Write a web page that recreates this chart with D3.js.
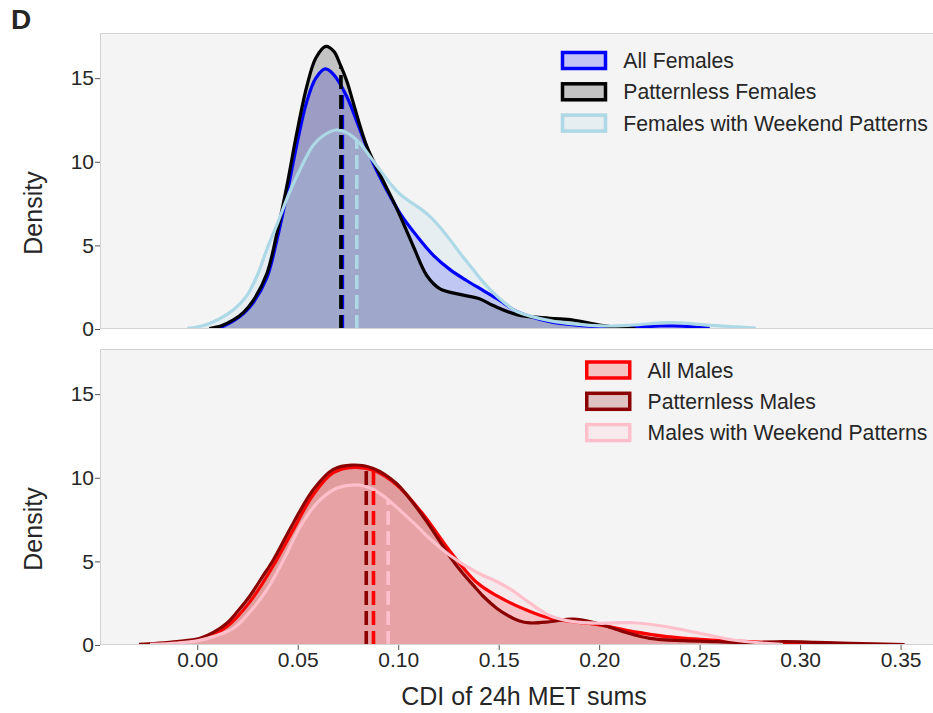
<!DOCTYPE html>
<html>
<head>
<meta charset="utf-8">
<script src="https://cdn.jsdelivr.net/npm/d3@7"></script>
<style>
  body { margin: 0; background: #ffffff; }
  svg { display: block; }
  text { font-family: "Liberation Sans", Arial, Helvetica, sans-serif; fill: #262626; }
</style>
</head>
<body>
<svg id="chart" width="933" height="713"></svg>
<script>
// ---- Kernel density estimates: [CDI value, density] ----
const femaleAll = [
  [0.008,0.03],[0.013,0.17],[0.018,0.48],[0.023,0.92],[0.028,1.6],[0.0346,3.05],[0.0396,5.3],
  [0.0445,8.0],[0.0495,11.0],[0.0545,13.6],[0.059,15.0],[0.0637,15.55],[0.068,15.2],[0.0744,13.9],
  [0.081,11.9],[0.0876,9.9],[0.0943,8.3],[0.101,6.9],[0.109,5.6],[0.1175,4.4],[0.1258,3.55],
  [0.134,2.9],[0.1424,2.3],[0.1507,1.7],[0.159,1.05],[0.1755,0.44],[0.19,0.22],[0.2,0.14],
  [0.215,0.12],[0.228,0.17],[0.237,0.19],[0.246,0.14],[0.255,0.04]
];
const femalePatternless = [
  [0.006,0.03],[0.012,0.2],[0.018,0.54],[0.023,1.0],[0.028,1.73],[0.0346,3.3],[0.0396,5.7],
  [0.0445,8.5],[0.0495,11.7],[0.0545,14.5],[0.059,16.2],[0.064,16.9],[0.068,16.6],[0.071,15.85],
  [0.0745,14.8],[0.0777,13.5],[0.0843,10.95],[0.0909,9.25],[0.0993,7.2],[0.1075,4.95],[0.1142,3.2],
  [0.1208,2.4],[0.1307,2.07],[0.1407,1.8],[0.147,1.42],[0.159,0.86],[0.1755,0.64],[0.187,0.54],
  [0.2,0.24],[0.209,0.1],[0.218,0.03]
];
const femaleWeekend = [
  [-0.005,0.04],[0.0,0.12],[0.005,0.28],[0.011,0.6],[0.018,1.15],[0.0247,2.0],[0.03,3.25],
  [0.0346,4.75],[0.04,6.35],[0.046,8.2],[0.051,9.5],[0.0545,10.35],[0.0578,11.0],[0.062,11.5],
  [0.0689,11.9],[0.075,11.7],[0.081,11.1],[0.086,10.3],[0.091,9.5],[0.096,8.7],[0.101,8.05],
  [0.106,7.6],[0.111,7.2],[0.116,6.7],[0.121,6.05],[0.126,5.3],[0.131,4.5],[0.137,3.6],
  [0.142,2.85],[0.147,2.2],[0.153,1.55],[0.159,1.05],[0.1755,0.5],[0.19,0.28],[0.2035,0.18],
  [0.217,0.24],[0.235,0.38],[0.2535,0.24],[0.265,0.15],[0.278,0.05]
];
const maleAll = [
  [-0.024,0.04],[-0.015,0.1],[-0.005,0.2],[0.0014,0.33],[0.008,0.62],[0.0147,1.1],[0.02,1.7],
  [0.026,2.55],[0.032,3.6],[0.0379,4.75],[0.0478,6.9],[0.0578,9.0],[0.0677,10.3],[0.0779,10.62],
  [0.0876,10.45],[0.099,9.6],[0.1125,7.8],[0.1258,5.6],[0.139,3.75],[0.149,2.95],[0.1656,2.0],
  [0.1755,1.6],[0.187,1.39],[0.2,1.2],[0.217,0.8],[0.2336,0.5],[0.25,0.34],[0.2668,0.24],
  [0.283,0.16],[0.30,0.1],[0.321,0.03]
];
const malePatternless = [
  [-0.029,0.04],[-0.02,0.1],[-0.01,0.2],[0.0014,0.4],[0.008,0.75],[0.0147,1.3],[0.02,2.0],
  [0.026,2.9],[0.032,4.0],[0.0379,5.1],[0.0478,7.3],[0.0578,9.3],[0.0677,10.5],[0.0769,10.76],
  [0.0876,10.56],[0.099,9.67],[0.1125,7.67],[0.1258,5.28],[0.132,4.3],[0.139,3.35],[0.1424,2.9],
  [0.149,2.2],[0.154,1.8],[0.16,1.45],[0.1656,1.32],[0.1755,1.39],[0.187,1.55],[0.1988,1.3],
  [0.212,0.8],[0.2253,0.4],[0.242,0.26],[0.2585,0.2],[0.275,0.14],[0.2916,0.2],[0.308,0.16],
  [0.325,0.1],[0.352,0.03]
];
const maleWeekend = [
  [-0.0235,0.04],[-0.01,0.12],[0.0,0.25],[0.008,0.5],[0.018,1.0],[0.026,1.95],[0.0346,3.29],
  [0.043,5.1],[0.0512,7.07],[0.06,8.55],[0.07,9.4],[0.081,9.56],[0.0876,9.3],[0.0943,8.75],
  [0.1009,8.05],[0.109,7.15],[0.1158,6.35],[0.1258,5.35],[0.139,4.35],[0.149,3.8],[0.157,3.25],
  [0.1656,2.5],[0.1755,1.75],[0.187,1.4],[0.2,1.3],[0.217,1.33],[0.2336,1.09],[0.25,0.7],
  [0.2668,0.3],[0.283,0.1],[0.2915,0.03]
];

// Group means (dashed markers)
const femaleMeans = [0.0722, 0.0715, 0.0794];
const maleMeans = [0.0877, 0.0841, 0.0950];

const femaleLabels = ["All Females", "Patternless Females", "Females with Weekend Patterns"];
const maleLabels = ["All Males", "Patternless Males", "Males with Weekend Patterns"];
const femaleColors = ["#0000ff", "#000000", "#add8e6"];
const maleColors = ["#ff0000", "#8b0000", "#ffc0cb"];

const xTicks = [0.00, 0.05, 0.10, 0.15, 0.20, 0.25, 0.30, 0.35];
const yTicks = [0, 5, 10, 15];
const xDomain = [-0.0484, 0.3736];
const yMax = 17.7;

// ---- Layout ----
const svg = d3.select("#chart");
const W = 933;
const axLeft = 100, axRight = 948;
const x = d3.scaleLinear().domain(xDomain).range([axLeft, axRight]);

const panels = [
  { top: 33, bottom: 329, series: [femaleAll, femalePatternless, femaleWeekend],
    means: femaleMeans, labels: femaleLabels, colors: femaleColors,
    legendX: 560.75, legendY: 60.5, showX: false },
  { top: 349, bottom: 645, series: [maleAll, malePatternless, maleWeekend],
    means: maleMeans, labels: maleLabels, colors: maleColors,
    legendX: 585, legendY: 370, showX: true }
];

function densityAt(pts, v) {
  for (let i = 0; i < pts.length - 1; i++) {
    const [x0, y0] = pts[i], [x1, y1] = pts[i + 1];
    if (v >= x0 && v <= x1) return y0 + (y1 - y0) * (v - x0) / (x1 - x0);
  }
  return 0;
}

const smooth = d3.curveCatmullRom.alpha(0.5);

panels.forEach((p, pi) => {
  const y = d3.scaleLinear().domain([0, yMax]).range([p.bottom, p.top]);
  const g = svg.append("g");

  const clipId = "clip" + pi;
  svg.append("clipPath").attr("id", clipId)
    .append("rect").attr("x", axLeft).attr("y", p.top).attr("width", W - axLeft).attr("height", p.bottom - p.top);

  // panel background
  g.append("rect").attr("x", axLeft).attr("y", p.top)
    .attr("width", W - axLeft).attr("height", p.bottom - p.top)
    .attr("fill", "#f4f4f4");

  const plot = g.append("g").attr("clip-path", `url(#${clipId})`);

  const area = d3.area().x(d => x(d[0])).y0(y(0)).y1(d => y(d[1])).curve(smooth);
  const line = d3.line().x(d => x(d[0])).y(d => y(d[1])).curve(smooth);

  // filled densities
  p.series.forEach((s, i) => {
    plot.append("path").attr("d", area(s))
      .attr("fill", p.colors[i]).attr("fill-opacity", 0.2);
  });
  // density outlines
  p.series.forEach((s, i) => {
    plot.append("path").attr("d", line(s))
      .attr("fill", "none").attr("stroke", p.colors[i])
      .attr("stroke-width", 3.2).attr("stroke-linejoin", "round");
  });
  // dashed mean markers, from zero up to the curve
  p.means.forEach((m, i) => {
    const h = densityAt(p.series[i], m);
    plot.append("path")
      .attr("d", `M${x(m)},${y(0)}V${y(h)}`)
      .attr("stroke", p.colors[i]).attr("stroke-width", 3.6)
      .attr("stroke-dasharray", "14,6").attr("fill", "none");
  });

  // frame (left, top, bottom)
  g.append("path")
    .attr("d", `M${W},${p.top + 0.5}H${axLeft + 0.5}V${p.bottom - 0.5}H${W}`)
    .attr("fill", "none").attr("stroke", "#d2d2d2").attr("stroke-width", 1);

  // y axis
  const ya = g.append("g").attr("transform", `translate(${axLeft},0)`)
    .call(d3.axisLeft(y).tickValues(yTicks).tickSize(5).tickPadding(1));
  ya.select(".domain").remove();
  ya.selectAll(".tick line").attr("stroke", "#555");
  ya.selectAll(".tick text").attr("font-size", 21).attr("fill", "#262626")
    .style("font-family", '"Liberation Sans", Arial, sans-serif');

  svg.append("text")
    .attr("transform", `translate(42,${(p.top + p.bottom) / 2 + 32}) rotate(-90)`)
    .attr("text-anchor", "middle").attr("font-size", 25).text("Density");

  if (p.showX) {
    const xa = g.append("g").attr("transform", `translate(0,${p.bottom})`)
      .call(d3.axisBottom(x).tickValues(xTicks).tickFormat(d3.format(".2f")).tickSize(5).tickPadding(2));
    xa.select(".domain").remove();
    xa.selectAll(".tick line").attr("stroke", "#555");
    xa.selectAll(".tick text").attr("font-size", 21).attr("fill", "#262626")
      .style("font-family", '"Liberation Sans", Arial, sans-serif');
  }

  // legend
  const lg = g.append("g");
  p.labels.forEach((lab, i) => {
    const cy = p.legendY + i * 31.3;
    lg.append("rect")
      .attr("x", p.legendX + 1.75).attr("y", cy - 8)
      .attr("width", 43).attr("height", 16)
      .attr("fill", d3.interpolateRgb("#f4f4f4", p.colors[i])(0.2))
      .attr("stroke", p.colors[i]).attr("stroke-width", 3.5);
    lg.append("text")
      .attr("x", p.legendX + 62.5).attr("y", cy + 7.5)
      .attr("font-size", 21.2).text(lab);
  });
});

// x axis title
svg.append("text").attr("x", 524).attr("y", 705)
  .attr("text-anchor", "middle").attr("font-size", 25).text("CDI of 24h MET sums");

// panel letter
svg.append("text").attr("x", 11).attr("y", 28.5)
  .attr("font-size", 28).attr("font-weight", "bold").attr("fill", "#000").text("D");
</script>
</body>
</html>
